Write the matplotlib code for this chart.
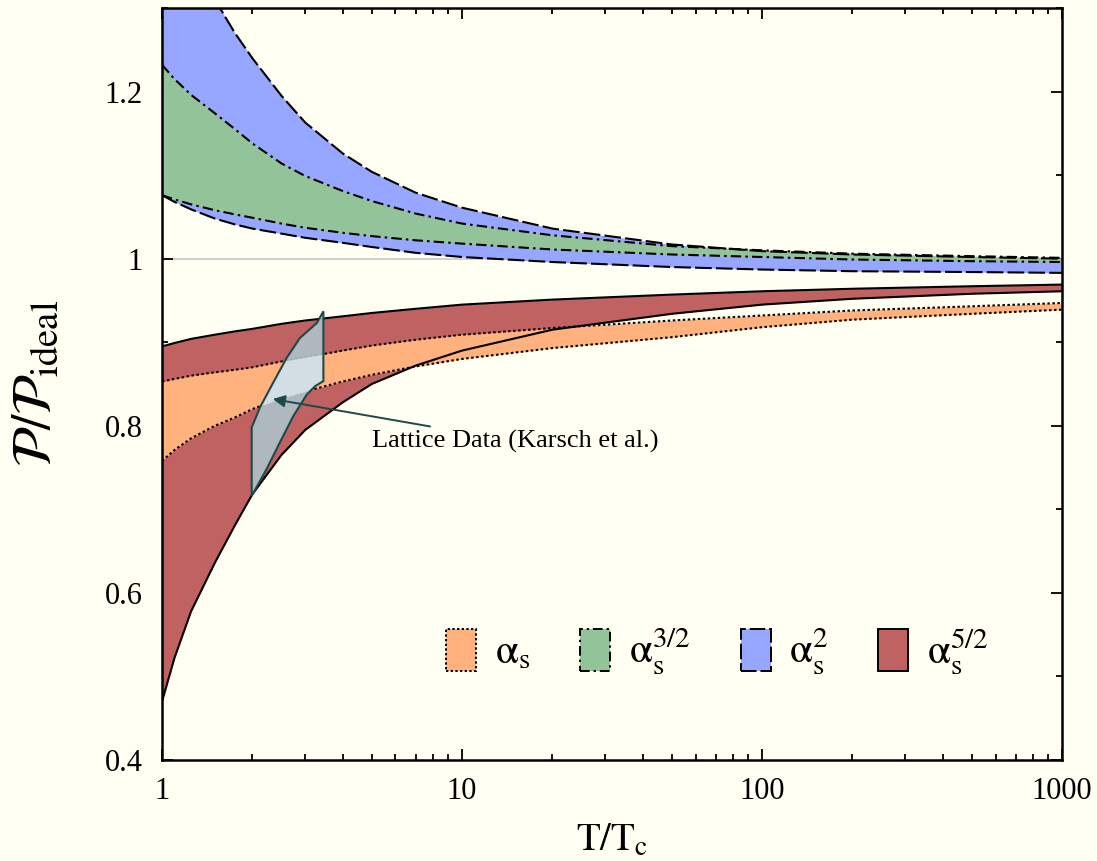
import numpy as np
import matplotlib
matplotlib.use("Agg")
import matplotlib.pyplot as plt
from matplotlib.patches import Patch, Polygon
from matplotlib.ticker import FixedLocator, LogLocator, NullFormatter

plt.rcParams['font.family'] = ['Liberation Serif', 'DejaVu Serif']
plt.rcParams['mathtext.fontset'] = 'stix'

# T/Tc grid shared by all bands
t = [1, 1.1, 1.25, 1.5, 1.75, 2, 2.5, 3, 4, 5, 7, 10, 20, 50, 100, 200, 500, 1000]

# alpha_s (orange, dotted)
as1_hi = [0.853, 0.856, 0.860, 0.864, 0.867, 0.870, 0.877, 0.882, 0.890, 0.896, 0.903, 0.909, 0.917, 0.926, 0.932, 0.938, 0.943, 0.947]
as1_lo = [0.758, 0.771, 0.785, 0.800, 0.810, 0.820, 0.833, 0.841, 0.853, 0.861, 0.871, 0.880, 0.893, 0.906, 0.918, 0.927, 0.934, 0.939]
# alpha_s^{3/2} (green, dash-dot)
as32_hi = [1.232, 1.215, 1.196, 1.174, 1.155, 1.138, 1.114, 1.099, 1.081, 1.069, 1.054, 1.042, 1.028, 1.015, 1.010, 1.006, 1.003, 1.001]
as32_lo = [1.076, 1.071, 1.065, 1.058, 1.053, 1.049, 1.042, 1.037, 1.031, 1.027, 1.022, 1.018, 1.011, 1.005, 1.002, 0.999, 0.997, 0.996]
# alpha_s^2 (blue, long dash)
as2_hi = [1.45, 1.41, 1.36, 1.31, 1.27, 1.240, 1.195, 1.163, 1.126, 1.104, 1.079, 1.061, 1.036, 1.017, 1.009, 1.005, 1.002, 1.000]
as2_lo = [1.076, 1.068, 1.059, 1.048, 1.041, 1.036, 1.030, 1.025, 1.019, 1.014, 1.007, 1.002, 0.996, 0.990, 0.987, 0.985, 0.984, 0.983]
# alpha_s^{5/2} (red, solid)
as52_hi = [0.895, 0.899, 0.904, 0.909, 0.913, 0.916, 0.922, 0.926, 0.931, 0.935, 0.940, 0.945, 0.951, 0.957, 0.961, 0.964, 0.967, 0.969]
as52_lo = [0.470, 0.522, 0.578, 0.636, 0.681, 0.718, 0.765, 0.795, 0.828, 0.850, 0.872, 0.890, 0.915, 0.934, 0.945, 0.952, 0.958, 0.961]

# lattice data outline (Karsch et al.)
lat_t = [3.45, 3.45, 3.24, 3.04, 2.74, 2.47, 2.23, 1.99, 1.99, 2.12, 2.35, 2.60, 2.88, 3.28]
lat_p = [0.937, 0.8535, 0.8475, 0.8376, 0.8117, 0.780, 0.748, 0.716, 0.798, 0.822, 0.852, 0.881, 0.905, 0.923]

labels = [r'$\mathrm{\alpha_s}$', r'$\mathrm{\alpha_s^{3/2}}$', r'$\mathrm{\alpha_s^{2}}$', r'$\mathrm{\alpha_s^{5/2}}$']
colors = ['#ffb27d', '#93c499', '#97a7ff', '#c06262']
styles = [(0, (1.2, 1.2)), (0, (5, 2, 1.2, 2)), (0, (8, 2)), '-']

bg = '#fffff2'
fig = plt.figure(figsize=(10.97, 8.61), dpi=100, facecolor=bg)
ax = fig.add_axes([0.1477, 0.1173, 0.8205, 0.8734], facecolor=bg)

ax.axhline(1.0, color='#cccccc', lw=1.3, zorder=1)

bands = [(as2_hi, as2_lo, 2), (as32_hi, as32_lo, 1), (as52_hi, as52_lo, 3), (as1_hi, as1_lo, 0)]
for hi, lo, k in bands:
    ax.fill_between(t, lo, hi, color=colors[k], lw=0, zorder=2)
for hi, lo, k in bands:
    ax.plot(t, hi, color='black', lw=1.5, ls=styles[k], zorder=3)
    ax.plot(t, lo, color='black', lw=1.5, ls=styles[k], zorder=3)

poly = Polygon(np.column_stack([lat_t, lat_p]), closed=True, facecolor='#acc5cc',
               edgecolor='none', alpha=0.88, zorder=4)
ax.add_patch(poly)
light = ax.fill_between(t, as1_lo, as1_hi, color='#d6e2e8', lw=0, alpha=0.88, zorder=4.5)
light.set_clip_path(poly)
ax.add_patch(Polygon(np.column_stack([lat_t, lat_p]), closed=True, facecolor='none',
                     edgecolor='#1f4848', lw=1.5, zorder=5))

ax.annotate('Lattice Data (Karsch et al.)', xy=(2.34, 0.832), xytext=(5.0, 0.7815),
            fontsize=19, va='center', ha='left', zorder=6,
            arrowprops=dict(arrowstyle='-|>', color='#1f4848', lw=1.4,
                            mutation_scale=18, shrinkA=2, shrinkB=0))

ax.set_xscale('log')
ax.set_xlim(1, 1000)
ax.set_ylim(0.4, 1.3)
ax.set_xticks([1, 10, 100, 1000])
ax.set_xticklabels(['1', '10', '100', '1000'])
ax.xaxis.set_minor_locator(LogLocator(base=10, subs=np.arange(2, 10)))
ax.xaxis.set_minor_formatter(NullFormatter())
ax.yaxis.set_major_locator(FixedLocator([0.4, 0.6, 0.8, 1.0, 1.2]))
ax.set_yticklabels(['0.4', '0.6', '0.8', '1', '1.2'])
ax.yaxis.set_minor_locator(FixedLocator([0.5, 0.7, 0.9, 1.1, 1.3]))
ax.tick_params(which='both', direction='in', top=True, right=True, width=1.3, labelsize=22)
ax.tick_params(axis='y', pad=14)
ax.tick_params(axis='x', pad=12)
ax.tick_params(which='major', length=8)
ax.tick_params(which='minor', length=4.5)
for s in ax.spines.values():
    s.set_linewidth(1.8)

ax.set_xlabel(r'$\mathrm{T/T_c}$', fontsize=28, labelpad=12)
ax.set_ylabel(r'$\mathcal{P}/\mathcal{P}_{\mathrm{ideal}}$', fontsize=40, labelpad=30)

handles = [Patch(facecolor=colors[k], edgecolor='black', lw=1.4, ls=styles[k]) for k in range(4)]
ax.legend(handles, labels, loc='center', bbox_to_anchor=(0.617, 0.144), ncol=4, frameon=False,
          fontsize=30, handlelength=0.72, handleheight=1.18, handletextpad=0.45, columnspacing=1.2)

fig.savefig('out.png', dpi=100, facecolor=bg)
